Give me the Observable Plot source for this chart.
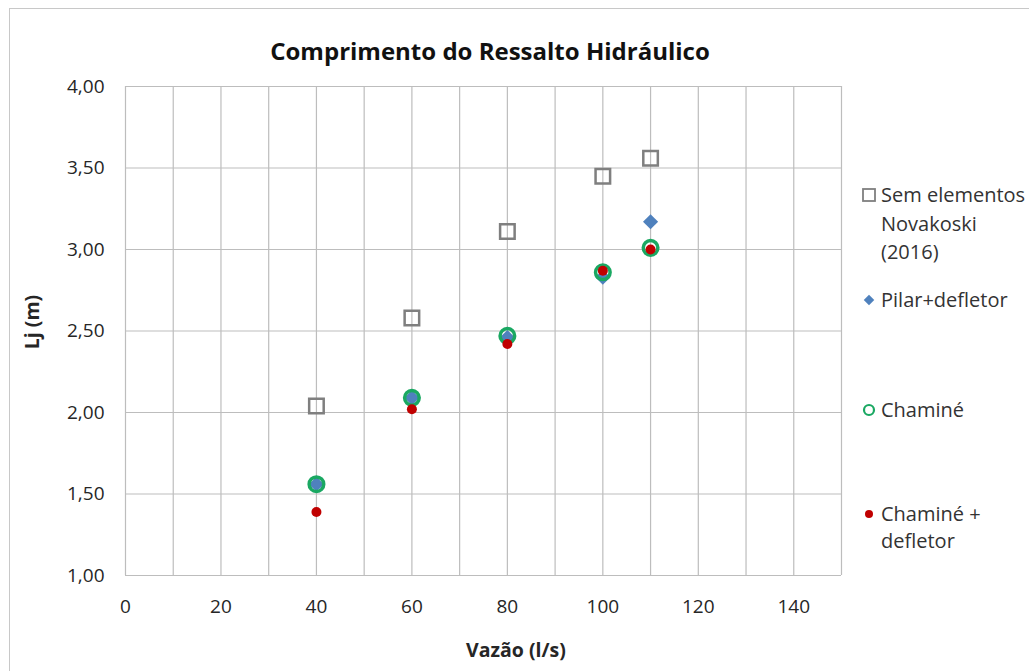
<!DOCTYPE html>
<html><head><meta charset="utf-8">
<script src="https://cdn.jsdelivr.net/npm/d3@7"></script>
<script src="https://cdn.jsdelivr.net/npm/@observablehq/plot@0.6"></script>
<style>
body{margin:0;background:#fff;font-family:"Open Sans",sans-serif;}
#wrap{position:relative;width:1029px;height:671px;}
</style></head>
<body><div id="wrap"></div>
<script>
const vazao = [40, 60, 80, 100, 110];
const semElementos = [2.04, 2.58, 3.11, 3.45, 3.56];
const pilarDefletor = [1.56, 2.09, 2.46, 2.83, 3.17];
const chamine = [1.56, 2.09, 2.47, 2.86, 3.01];
const chamineDefletor = [1.39, 2.02, 2.42, 2.87, 3.00];
const yTicks = [1, 1.5, 2, 2.5, 3, 3.5, 4];
const xTicks = [0, 20, 40, 60, 80, 100, 120, 140];
const xGrid = [0,10,20,30,40,50,60,70,80,90,100,110,120,130,140,150];

const toRows = ys => vazao.map((x, i) => ({x, y: ys[i]}));
const fmt = d => d.toFixed(2).replace(".", ",");

const W = 1029, H = 671;
const chart = Plot.plot({
  width: W, height: H,
  marginLeft: 125, marginRight: 188, marginTop: 86, marginBottom: 96,
  style: {fontFamily: "'Open Sans', sans-serif", fontSize: "19px", color: "#262626", background: "transparent"},
  x: {domain: [0, 150]},
  y: {domain: [1, 4]},
  marks: [
    Plot.gridX(xGrid, {stroke: "#bdbdbd", strokeOpacity: 1, strokeWidth: 1.2}),
    Plot.gridY(yTicks, {stroke: "#bdbdbd", strokeOpacity: 1, strokeWidth: 1.2}),
    Plot.axisX(xTicks, {tickSize: 0, tickPadding: 24, label: null, tickFormat: d => String(d)}),
    Plot.axisY(yTicks, {tickSize: 0, tickPadding: 21, label: null, tickFormat: fmt}),
    Plot.dot(toRows(semElementos), {x: "x", y: "y", symbol: "square", r: 8.2, stroke: "#7f7f7f", strokeWidth: 2.5, fill: "none"}),
    Plot.dot(toRows(pilarDefletor), {x: "x", y: "y", symbol: "diamond2", r: 6.8, fill: "#4f81bd", stroke: "none"}),
    Plot.dot(toRows(chamine), {x: "x", y: "y", symbol: "circle", r: 7.3, stroke: "#1aa862", strokeWidth: 3.5, fill: "none"}),
    Plot.dot(toRows(chamineDefletor), {x: "x", y: "y", symbol: "circle", r: 5, fill: "#c00000", stroke: "none"})
  ]
});
document.getElementById("wrap").appendChild(chart);

const svg = d3.select(chart);
svg.insert("rect", ":first-child").attr("x", 9.5).attr("y", 8.5).attr("width", 1030).attr("height", 670)
  .attr("fill", "#fff").attr("stroke", "#c8c8c8").attr("stroke-width", 1);

svg.append("text").attr("x", 490).attr("y", 60).attr("text-anchor", "middle")
  .attr("font-size", 24).attr("font-weight", "bold").attr("fill", "#111").text("Comprimento do Ressalto Hidráulico");
svg.append("text").attr("x", 516).attr("y", 657).attr("text-anchor", "middle")
  .attr("font-size", 19.5).attr("font-weight", "bold").attr("fill", "#262626").text("Vazão (l/s)");
svg.append("text").attr("transform", "translate(39,322) rotate(-90)").attr("text-anchor", "middle")
  .attr("font-size", 19.5).attr("font-weight", "bold").attr("fill", "#262626").text("Lj (m)");

// legend
const lg = svg.append("g").attr("font-size", 20).attr("fill", "#333").attr("text-anchor", "start");
const lx = 881, sx = 869;
lg.append("rect").attr("x", sx - 6).attr("y", 195 - 6).attr("width", 12).attr("height", 12).attr("fill", "none").attr("stroke", "#7f7f7f").attr("stroke-width", 1.8);
[["Sem elementos", 195], ["Novakoski", 224], ["(2016)", 252]].forEach(([t, y]) =>
  lg.append("text").attr("x", lx).attr("y", y).attr("dy", "0.35em").text(t));
lg.append("path").attr("d", d3.symbol(d3.symbolDiamond2, 70)()).attr("transform", `translate(${sx},300)`).attr("fill", "#4f81bd");
lg.append("text").attr("x", lx).attr("y", 300).attr("dy", "0.35em").text("Pilar+defletor");
lg.append("circle").attr("cx", sx).attr("cy", 410).attr("r", 5).attr("fill", "none").attr("stroke", "#1aa862").attr("stroke-width", 2.2);
lg.append("text").attr("x", lx).attr("y", 410).attr("dy", "0.35em").text("Chaminé");
lg.append("circle").attr("cx", sx).attr("cy", 514).attr("r", 4).attr("fill", "#c00000");
[["Chaminé +", 514], ["defletor", 541]].forEach(([t, y]) =>
  lg.append("text").attr("x", lx).attr("y", y).attr("dy", "0.35em").text(t));
</script></body></html>
